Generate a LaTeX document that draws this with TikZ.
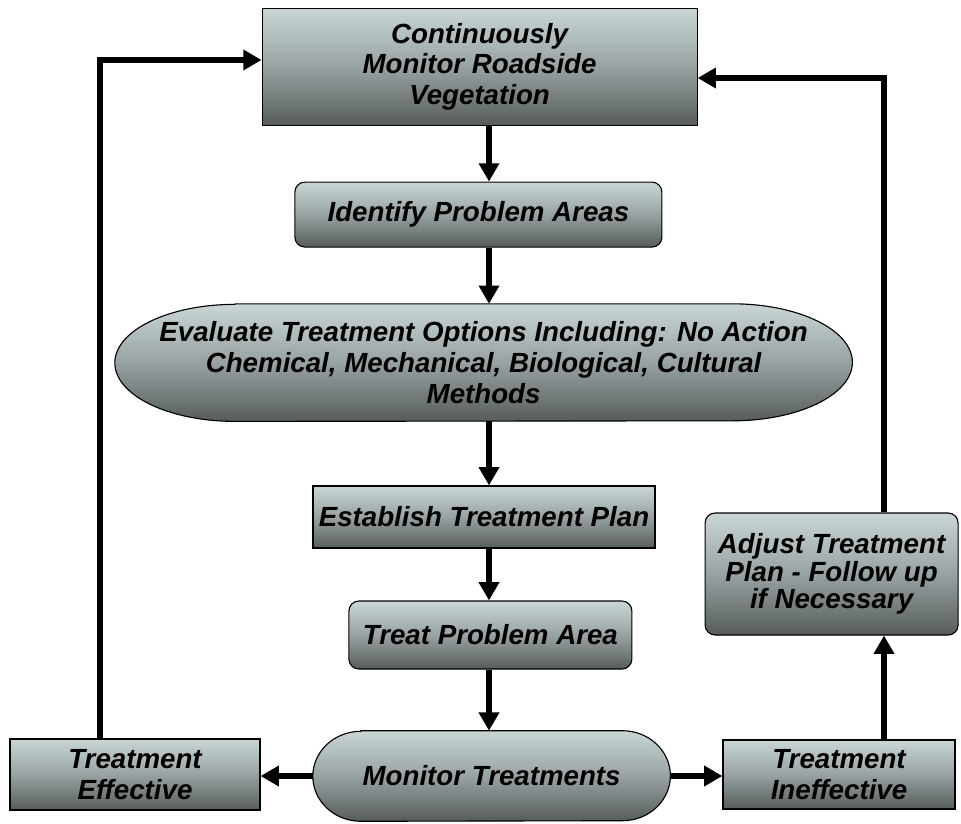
\documentclass[tikz,border=0pt]{standalone}
\usepackage{fontspec}
\setmainfont{Liberation Sans}
\usepackage{tikz}
\usetikzlibrary{arrows.meta, calc, backgrounds}

\definecolor{boxtop}{RGB}{202,214,214}
\definecolor{boxmid}{RGB}{152,162,162}
\definecolor{boxbot}{RGB}{86,92,92}

\newcommand{\flowfont}{\fontsize{19.7}{21.8}\selectfont\bfseries\itshape}
% shaded capsule behind a text node: name, x radius, y radius
\newcommand{\capsule}[3]{%
\begin{scope}[on background layer]
\path[boxshade] ($(#1.north west)+(#2,0)$) -- ($(#1.north east)-(#2,0)$)
  arc[start angle=90, end angle=-90, x radius=#2, y radius=#3]
  -- ($(#1.south west)+(#2,0)$)
  arc[start angle=270, end angle=90, x radius=#2, y radius=#3] -- cycle;
\end{scope}}

\begin{document}
\begin{tikzpicture}[>={Triangle[length=13pt,width=14pt]},
  boxshade/.style={top color=boxtop, bottom color=boxbot, middle color=boxmid, draw=black, line width=0.8pt},
  flowbox/.style={boxshade, rectangle, inner sep=2pt, align=center, font=\flowfont},
  roundbox/.style={flowbox, rounded corners=0.25cm},
  capsuletext/.style={inner sep=2pt, align=center, font=\flowfont},
  flow/.style={line width=4pt, ->}]
\useasboundingbox (0,0) rectangle (24.025,20.575);
\coordinate (spine) at (12.225,10);
\coordinate (lcorner) at (2.5,19.075);
\coordinate (rcorner) at (22.1,18.625);

\node at (11.99,18.91) [flowbox, minimum width=10.875cm, minimum height=2.925cm](top)
{Continuously\\Monitor Roadside\\Vegetation};
\node at (11.96,15.21) [roundbox, minimum width=9.175cm, minimum height=1.625cm](ident)
{Identify Problem Areas};
\node at (12.09,11.51) [capsuletext, minimum width=18.425cm, minimum height=2.925cm](eval)
{Evaluate Treatment Options Including: No Action\\Chemical, Mechanical, Biological, Cultural\\Methods};
\capsule{eval}{3cm}{1.4625cm}
\node at (12.10,7.65) [flowbox, minimum width=8.55cm, minimum height=1.55cm](estab)
{Establish Treatment Plan};
\node at (12.26,4.70) [roundbox, minimum width=7.075cm, minimum height=1.7cm](treat)
{Treat Problem Area};
\node at (12.29,1.175) [capsuletext, minimum width=8.925cm, minimum height=2.25cm](mon)
{Monitor Treatments};
\capsule{mon}{1.2cm}{1.125cm}
\node at (3.375,1.2125) [flowbox, minimum width=6.25cm, minimum height=1.775cm](eff)
{Treatment\\Effective};
\node at (20.975,1.2125) [flowbox, minimum width=5.8cm, minimum height=1.725cm](ineff)
{Treatment\\Ineffective};
\node at (20.79,6.225) [roundbox, minimum width=6.325cm, minimum height=3.05cm,
  font=\fontsize{19.7}{19.5}\selectfont\bfseries\itshape](adj)
{Adjust Treatment\\Plan - Follow up\\if Necessary};

% main column
\draw[flow] (top.south -| spine) -- (ident.north -| spine);
\draw[flow] (ident.south -| spine) -- (eval.north -| spine);
\draw[flow] (eval.south -| spine) -- (estab.north -| spine);
\draw[flow] (estab.south -| spine) -- (treat.north -| spine);
\draw[flow] (treat.south -| spine) -- (mon.north -| spine);
% outcomes
\draw[flow] (mon.west) -- (eff.east |- mon.west);
\draw[flow] (mon.east) -- (ineff.west |- mon.east);
\draw[flow] (ineff.north -| rcorner) -- (adj.south -| rcorner);
% loops back to monitoring
\draw[flow] (eff.north -| lcorner) -- (lcorner) -- (top.west |- lcorner);
\draw[flow] (adj.north -| rcorner) -- (rcorner) -- (top.east |- rcorner);
\end{tikzpicture}
\end{document}
